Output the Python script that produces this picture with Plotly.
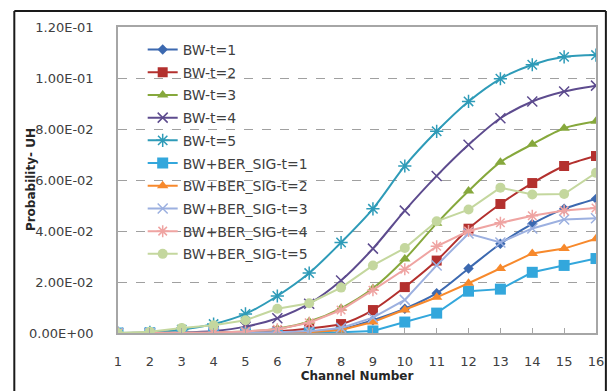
import plotly.graph_objects as go

channels = list(range(1, 17))

bw_t1 = [0, 0, 0, 0.0001, 0.0002, 0.0003, 0.0006, 0.0015, 0.005, 0.0095, 0.0156, 0.0253, 0.035, 0.0428, 0.0487, 0.0526]
bw_t2 = [0, 0, 0, 0.0001, 0.0003, 0.0007, 0.0018, 0.0035, 0.009, 0.018, 0.0284, 0.0409, 0.0506, 0.0588, 0.0655, 0.0694]
bw_t3 = [0, 0, 0.0001, 0.0002, 0.0006, 0.0017, 0.0045, 0.0097, 0.0175, 0.029, 0.043, 0.0557, 0.067, 0.074, 0.0803, 0.083]
bw_t4 = [0, 0, 0.0002, 0.0008, 0.0025, 0.0058, 0.0115, 0.0206, 0.0331, 0.048, 0.0616, 0.0738, 0.0842, 0.0908, 0.0947, 0.097]
bw_t5 = [0, 0.0003, 0.0013, 0.0035, 0.0075, 0.0145, 0.0235, 0.0355, 0.0487, 0.0655, 0.0791, 0.0908, 0.0997, 0.1052, 0.1083, 0.109]

ber_t1 = [0, 0, 0, 0, 0, 0, 0.0001, 0.0003, 0.0008, 0.0043, 0.0078, 0.0164, 0.0172, 0.0238, 0.0265, 0.0292]
ber_t2 = [0, 0, 0, 0, 0, 0.0001, 0.0003, 0.0012, 0.0043, 0.009, 0.014, 0.0195, 0.0253, 0.0312, 0.0331, 0.037]
ber_t3 = [0, 0, 0, 0, 0.0001, 0.0003, 0.0007, 0.002, 0.006, 0.013, 0.0265, 0.039, 0.0355, 0.041, 0.0445, 0.045]
ber_t4 = [0, 0, 0, 0.0002, 0.0006, 0.0015, 0.004, 0.009, 0.0168, 0.025, 0.034, 0.040, 0.0432, 0.046, 0.048, 0.049]
ber_t5 = [0, 0.0005, 0.002, 0.003, 0.005, 0.0095, 0.0117, 0.0178, 0.0265, 0.0333, 0.0438, 0.0484, 0.057, 0.0543, 0.0545, 0.0628]

series_names = ["BW-t=1", "BW-t=2", "BW-t=3", "BW-t=4", "BW-t=5",
                "BW+BER_SIG-t=1", "BW+BER_SIG-t=2", "BW+BER_SIG-t=3", "BW+BER_SIG-t=4", "BW+BER_SIG-t=5"]
series_values = [bw_t1, bw_t2, bw_t3, bw_t4, bw_t5, ber_t1, ber_t2, ber_t3, ber_t4, ber_t5]

y_tick_vals = [0, 0.02, 0.04, 0.06, 0.08, 0.10, 0.12]
y_tick_text = ["0.00E+00", "2.00E-02", "4.00E-02", "6.00E-02", "8.00E-02", "1.00E-01", "1.20E-01"]

styles = [
    dict(color="#3C69B0", symbol="diamond", size=8, shape="spline"),
    dict(color="#B3302E", symbol="square", size=10, shape="spline"),
    dict(color="#86A83C", symbol="triangle-up", size=10, shape="spline"),
    dict(color="#5D4B8E", symbol="x-thin", size=10, shape="spline"),
    dict(color="#2E9BB8", symbol="asterisk", size=11, shape="spline"),
    dict(color="#33A7DC", symbol="square", size=11, shape="linear"),
    dict(color="#F7892C", symbol="triangle-up", size=10, shape="linear"),
    dict(color="#9CB0E0", symbol="x-thin", size=10, shape="linear"),
    dict(color="#EFA4A2", symbol="asterisk", size=10, shape="linear"),
    dict(color="#C4D79E", symbol="circle", size=10, shape="linear"),
]

fig = go.Figure()
for i, (name, vals, st) in enumerate(zip(series_names, series_values, styles)):
    thin = st["symbol"] in ("x-thin", "asterisk")
    fig.add_trace(go.Scatter(
        x=channels, y=vals, name=name, mode="lines+markers",
        legendgroup="g%d" % i,
        line=dict(color=st["color"], width=2, shape=st["shape"], smoothing=0.8),
        marker=dict(symbol=st["symbol"], size=st["size"], color=st["color"],
                    line=dict(color=st["color"], width=1.5 if thin else 0)),
    ))

# page is shown with an 8px body offset; figure coordinates = page - 8
W, H = 608, 383
L, R, T, B = 110, 14, 17, 58
pw, ph = W - L - R, H - T - B

def px(x):
    return (x - L) / pw

def py(y):
    return (H - B - y) / ph

frame = dict(color="#1a1a1a", width=2)
fig.update_layout(
    width=W, height=H,
    margin=dict(l=L, r=R, t=T, b=B),
    paper_bgcolor="white", plot_bgcolor="white",
    font=dict(family="DejaVu Sans", size=13, color="#404040"),
    showlegend=True,
    legend=dict(x=px(135), y=py(24), xanchor="left", yanchor="top",
                bgcolor="rgba(0,0,0,0)", tracegroupgap=1.5,
                font=dict(family="DejaVu Sans", size=14, color="#404040"),
                itemwidth=30),
    shapes=[
        dict(type="line", xref="paper", yref="paper", x0=px(5), x1=px(5), y0=py(1), y1=py(H + 5), line=frame),
        dict(type="line", xref="paper", yref="paper", x0=px(5), x1=px(604), y0=py(1), y1=py(1), line=frame),
        dict(type="line", xref="paper", yref="paper", x0=px(604), x1=px(604), y0=py(1), y1=py(H + 5), line=frame),
    ],
    annotations=[dict(text="<b>Probability- UH</b>", xref="paper", yref="paper",
                      x=px(22), y=0.5, textangle=-90, showarrow=False,
                      xanchor="center", yanchor="middle",
                      font=dict(family="DejaVu Sans", size=12, color="#262626"))],
)

fig.update_xaxes(
    range=[1, 16], tickmode="array", tickvals=channels,
    ticks="inside", ticklen=5, tickcolor="#A6A6A6",
    showgrid=False, zeroline=False,
    showline=True, linecolor="#A6A6A6", linewidth=1.5, mirror=True,
    ticklabelstandoff=16,
    tickfont=dict(family="DejaVu Sans", size=13, color="#404040"),
    title=dict(text="<b>Channel Number</b>", standoff=0,
               font=dict(family="DejaVu Sans", size=12, color="#262626")),
)
fig.update_yaxes(
    range=[0, 0.12], tickmode="array", tickvals=y_tick_vals, ticktext=y_tick_text,
    ticks="", showgrid=True, gridcolor="#A0A0A0", griddash="dash", gridwidth=1,
    zeroline=False,
    showline=True, linecolor="#A6A6A6", linewidth=1.5, mirror=True,
    ticklabelstandoff=20,
    tickfont=dict(family="DejaVu Sans", size=13, color="#404040"),
)

fig.write_html("out.html")
